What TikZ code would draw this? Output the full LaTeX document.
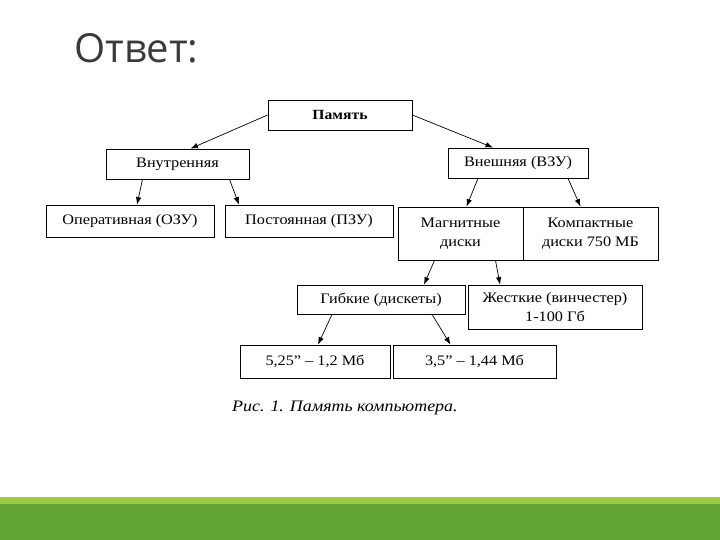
\documentclass[tikz,border=0pt]{standalone}
\usepackage{fontspec}
\setmainfont{Liberation Serif}
\newfontfamily\boxfont[FakeStretch=1.12]{Liberation Serif}
\newfontfamily\titlefont{Open Sans}
\usepackage{xcolor}
\usetikzlibrary{positioning,arrows.meta,shadows}
\definecolor{barlight}{HTML}{9CCB3B}
\definecolor{bardark}{HTML}{64A538}
\definecolor{titlegray}{HTML}{3A3A3A}

\begin{document}
\begin{tikzpicture}[x=1pt,y=-1pt,
  membox/.style={rectangle, draw, fill=white, line width=0.8pt, inner sep=2pt, align=center,
    font=\boxfont\fontsize{14.5}{19}\selectfont,
    drop shadow={shadow xshift=1.1pt, shadow yshift=-1.1pt, opacity=1, fill=black}},
  arrow/.style={-{Latex[length=7.5pt,width=5.5pt]}, line width=0.7pt}
  ]
  \useasboundingbox (0,0) rectangle (720,540);
  % title and bottom bar
  \node[anchor=base west, inner sep=0pt, text=titlegray, font=\titlefont\fontsize{40}{44}\selectfont] (title) at (74,63) {Ответ:};
  \fill[barlight] (0,497) rectangle (720,504);
  \fill[bardark] (0,504) rectangle (720,540);
  % boxes
  \node[membox, minimum width=144pt, minimum height=30pt, font=\boxfont\fontsize{14}{16}\bfseries] (pam) at (340,115) {Память};
  \node[membox, minimum width=143pt, minimum height=30pt] (vnutr) at (177.5,164) {Внутренняя};
  \node[membox, minimum width=140pt, minimum height=30pt] (vnesh) at (518,163) {Внешняя (ВЗУ)};
  \node[membox, minimum width=168pt, minimum height=32pt] (oper) at (130,221) {Оперативная (ОЗУ)};
  \node[membox, minimum width=168pt, minimum height=32pt] (post) at (309,221) {Постоянная (ПЗУ)};
  \node[membox, minimum width=125pt, minimum height=53pt] (magn) at (460.5,233.5) {Магнитные\\диски};
  \node[membox, minimum width=135pt, minimum height=53pt] (komp) at (590.5,233.5) {Компактные\\диски 750 МБ};
  \node[membox, minimum width=168pt, minimum height=29pt] (gibk) at (381,299.5) {Гибкие (дискеты)};
  \node[membox, minimum width=174pt, minimum height=44pt] (zhest) at (555,307) {Жесткие (винчестер)\\1-100 Гб};
  \node[membox, minimum width=150pt, minimum height=33pt] (d525) at (315,361.5) {5,25” – 1,2 Мб};
  \node[membox, minimum width=163pt, minimum height=33pt] (d35) at (474.5,361.5) {3,5” – 1,44 Мб};
  % caption
  \node[anchor=west, inner sep=0pt, font=\boxfont\itshape\fontsize{16}{18}\selectfont] (caption) at (232,408) {Рис. 1. Память компьютера.};
  % arrows
  \draw[arrow] (pam.west) -- ([xshift=13pt]vnutr.north);
  \draw[arrow] (pam.east) -- ([xshift=-25pt]vnesh.north);
  \draw[arrow] ([xshift=-35pt]vnutr.south) -- ([xshift=7pt]oper.north);
  \draw[arrow] ([xshift=52pt]vnutr.south) -- ([xshift=-70pt]post.north);
  \draw[arrow] ([xshift=-40pt]vnesh.south) -- ([xshift=6pt]magn.north);
  \draw[arrow] ([xshift=50pt]vnesh.south) -- ([xshift=-10pt]komp.north);
  \draw[arrow] ([xshift=-26pt]magn.south) -- ([xshift=43pt]gibk.north);
  \draw[arrow] ([xshift=35pt]magn.south) -- ([xshift=-55pt]zhest.north);
  \draw[arrow] ([xshift=-49pt]gibk.south) -- ([xshift=3pt]d525.north);
  \draw[arrow] ([xshift=51pt]gibk.south) -- ([xshift=-24pt]d35.north);
\end{tikzpicture}
\end{document}
